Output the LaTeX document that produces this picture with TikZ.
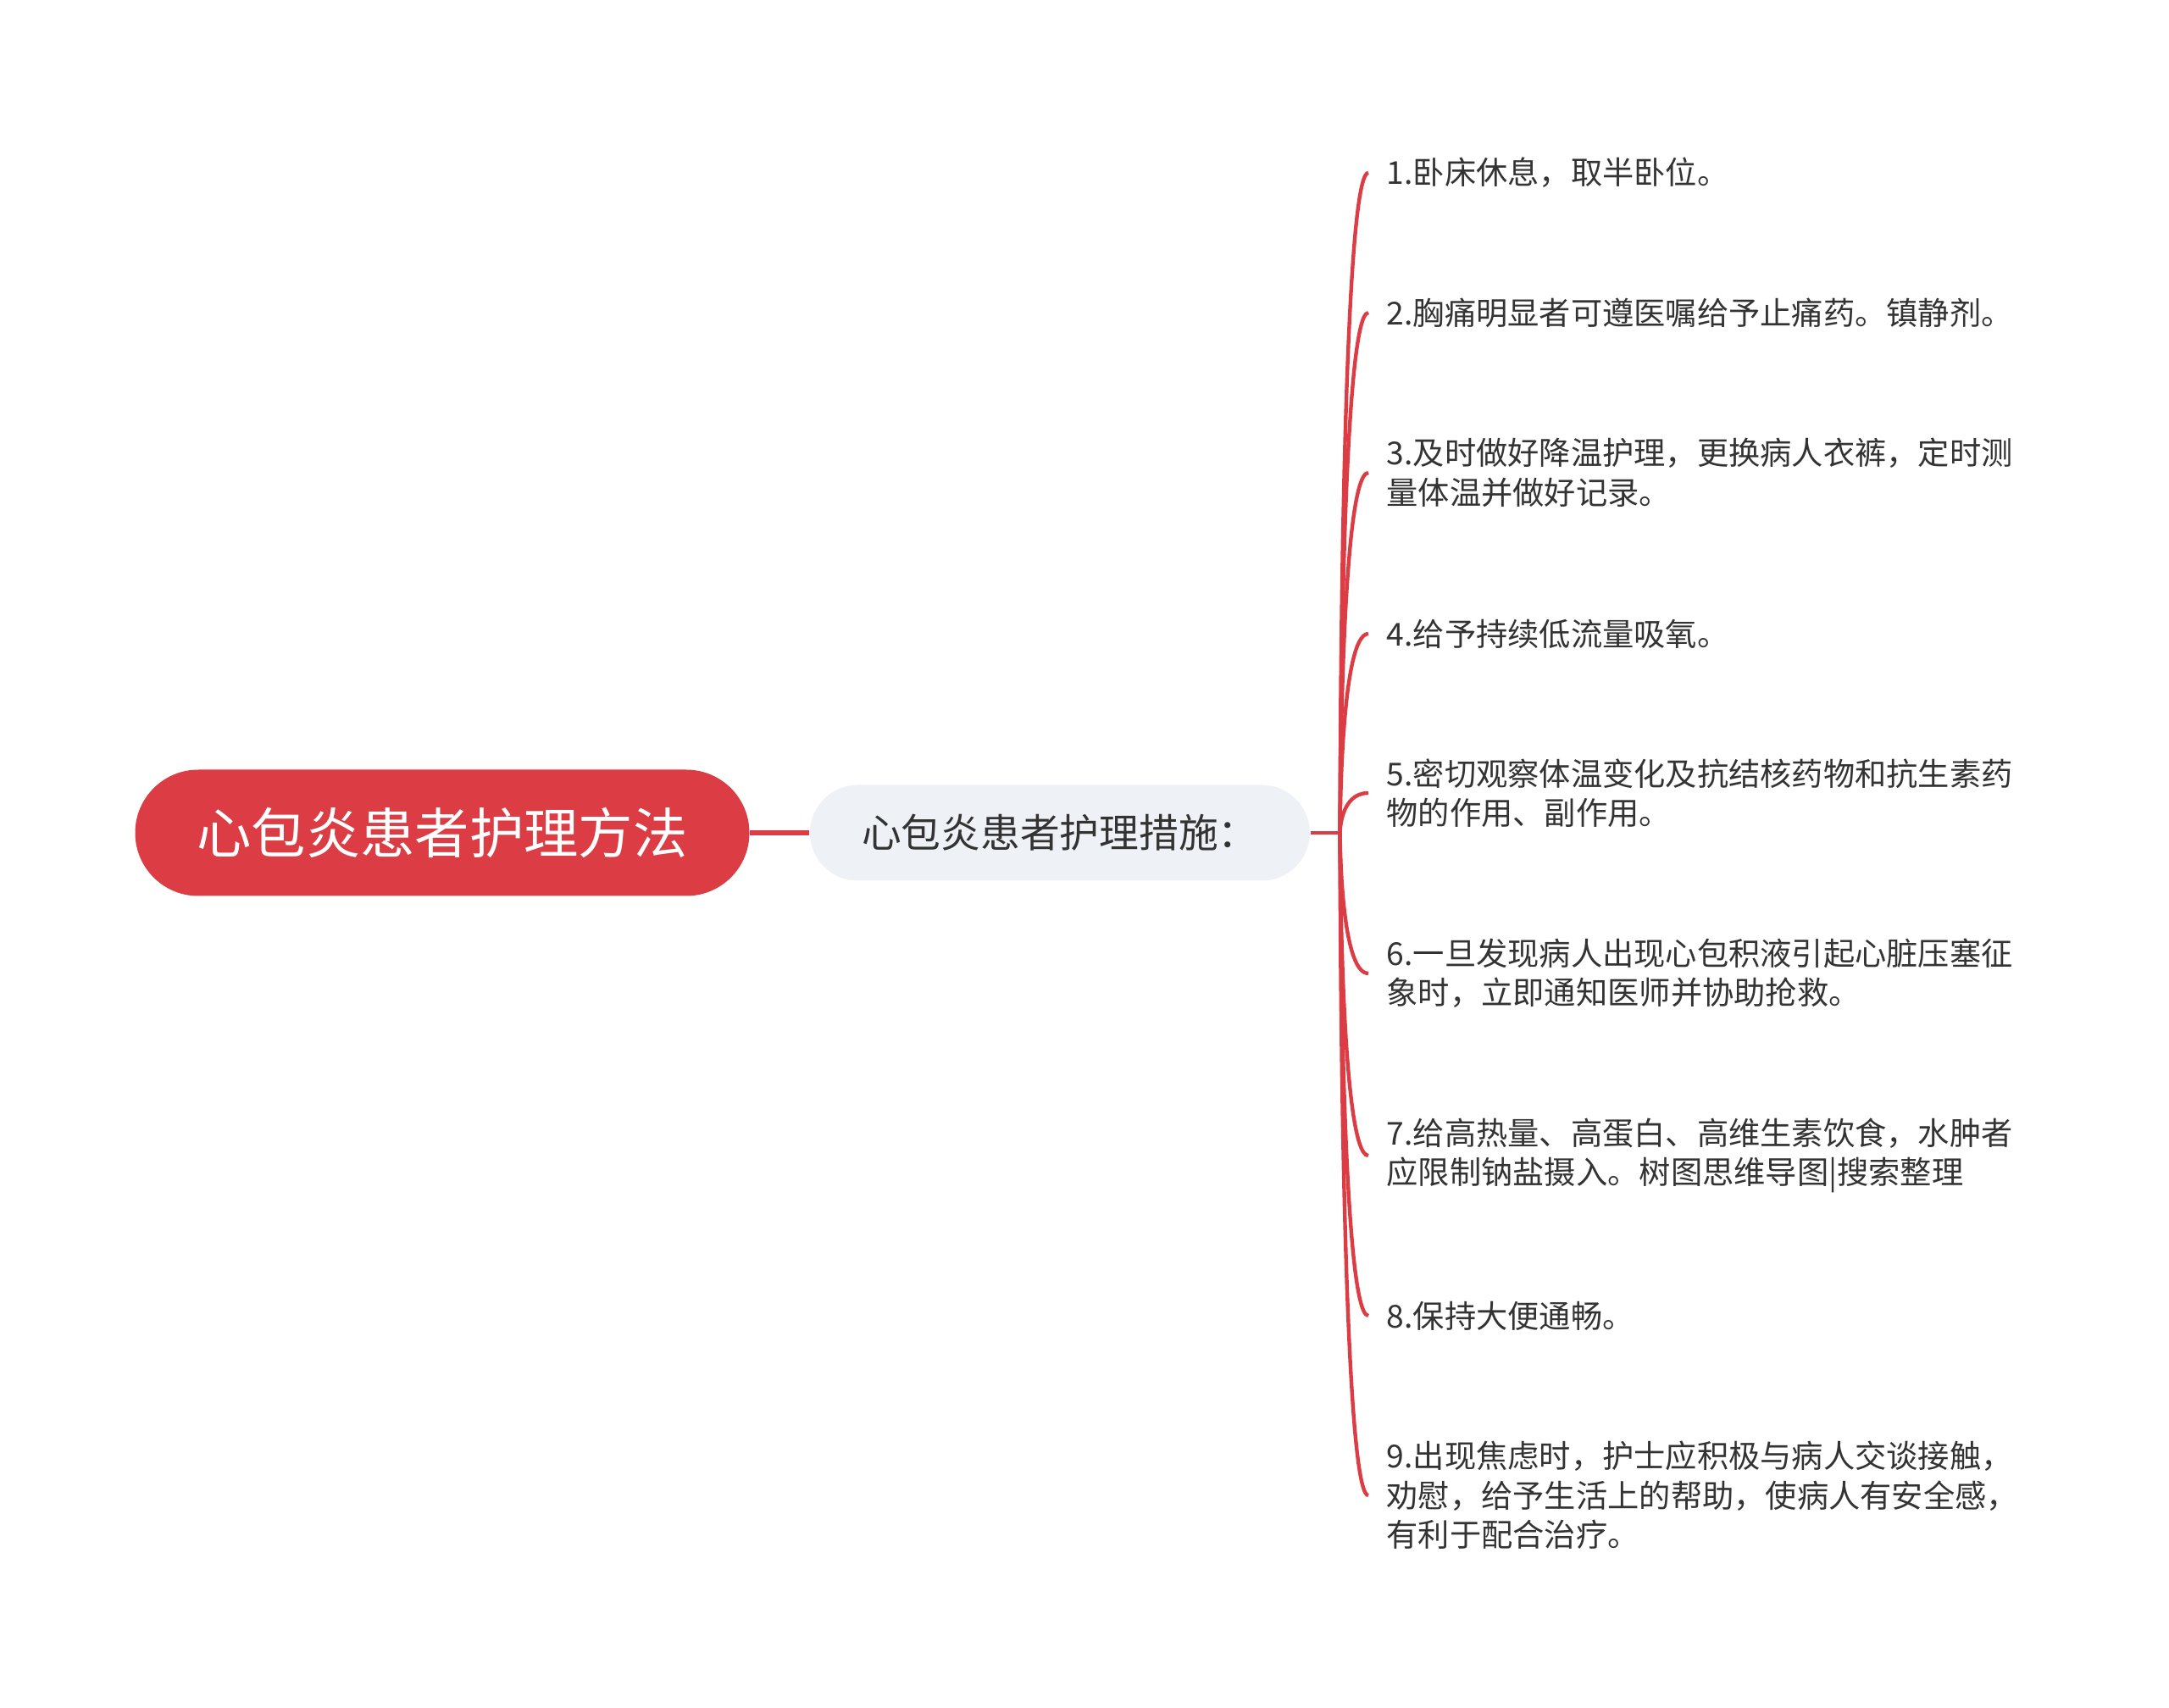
\documentclass[tikz,border=0pt]{standalone}
\usepackage{fontspec}
\setmainfont{Noto Sans CJK SC}
\usepackage{tikz}
\usetikzlibrary{positioning}
\definecolor{rootred}{HTML}{DC3D44}
\definecolor{subgray}{HTML}{EEF1F5}
\definecolor{leaftext}{HTML}{333333}
\tikzset{
  rootnode/.style={fill=rootred, text=white, minimum width=7.25cm, minimum height=1.49cm,
    rounded corners=0.745cm, font=\fontsize{18.3}{22}\selectfont},
  subnode/.style={fill=subgray, text=leaftext, minimum width=5.9cm, minimum height=1.13cm,
    rounded corners=0.565cm, font=\fontsize{13.3}{16}\selectfont},
  leaf/.style={anchor=west, align=left, text=leaftext, inner xsep=0.21cm, inner ysep=0pt,
    font=\fontsize{10.6}{13.2}\selectfont},
  branch/.style={draw=rootred, line width=1.25pt},
}

\begin{document}
\begin{tikzpicture}
\useasboundingbox (0,0) rectangle (25.6,-20.16);
\node[rootnode] (root) at (5.22,-9.83) {心包炎患者护理方法};
\node[subnode, right=0.7cm of root] (sub) {心包炎患者护理措施：};
\coordinate (hub) at ([xshift=0.35cm]sub.east);
\draw[branch, line width=1.5pt] (root) -- (sub);
\draw[branch] (sub.east) -- (hub);

\node[leaf] (l1) at (16.15,-2.04) {1.卧床休息，取半卧位。};
\node[leaf] (l2) at (16.15,-3.69) {2.胸痛明显者可遵医嘱给予止痛药。镇静剂。};
\node[leaf] (l3) at (16.15,-5.58) {3.及时做好降温护理，更换病人衣裤，定时测\\量体温并做好记录。};
\node[leaf] (l4) at (16.15,-7.48) {4.给予持续低流量吸氧。};
\node[leaf] (l5) at (16.15,-9.36) {5.密切观察体温变化及抗结核药物和抗生素药\\物的作用、副作用。};
\node[leaf] (l6) at (16.15,-11.49) {6.一旦发现病人出现心包积液引起心脏压塞征\\象时，立即通知医师并协助抢救。};
\node[leaf] (l7) at (16.15,-13.64) {7.给高热量、高蛋白、高维生素饮食，水肿者\\应限制钠盐摄入。树图思维导图|搜索整理};
\node[leaf] (l8) at (16.15,-15.53) {8.保持大便通畅。};
\node[leaf] (l9) at (16.15,-17.65) {9.出现焦虑时，护士应积极与病人交谈接触，\\劝慰，给予生活上的帮助，使病人有安全感，\\有利于配合治疗。};

% branches to the items
\draw[branch] (hub) .. controls (hub) and (hub |- l1.west) .. (l1.west);
\draw[branch] (hub) .. controls (hub) and (hub |- l2.west) .. (l2.west);
\draw[branch] (hub) .. controls (hub) and (hub |- l3.west) .. (l3.west);
\draw[branch] (hub) .. controls (hub) and (hub |- l4.west) .. (l4.west);
\draw[branch] (hub) .. controls (hub) and (hub |- l5.west) .. (l5.west);
\draw[branch] (hub) .. controls (hub) and (hub |- l6.west) .. (l6.west);
\draw[branch] (hub) .. controls (hub) and (hub |- l7.west) .. (l7.west);
\draw[branch] (hub) .. controls (hub) and (hub |- l8.west) .. (l8.west);
\draw[branch] (hub) .. controls (hub) and (hub |- l9.west) .. (l9.west);
\end{tikzpicture}
\end{document}
